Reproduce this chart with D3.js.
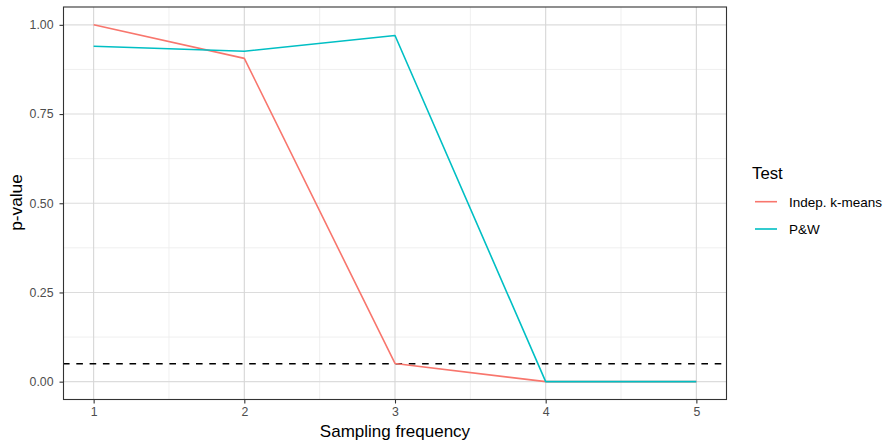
<!DOCTYPE html>
<html><head><meta charset="utf-8">
<script src="https://cdn.jsdelivr.net/npm/d3@7"></script>
<style>body{margin:0;background:#fff;font-family:"Liberation Sans",Arial,sans-serif;}</style>
</head><body><svg id="c" width="886" height="443"></svg>
<script>
const freq = [1, 2, 3, 4, 5];
const indepKmeans = [1.00, 0.906, 0.051, 0.0, 0.0];
const pw = [0.940, 0.926, 0.970, 0.0, 0.0];
const seriesNames = ["Indep. k-means", "P&W"];
const seriesColors = ["#F8766D", "#00BFC4"];
const yTicks = [0, 0.25, 0.5, 0.75, 1.0];
const yMinor = [0.125, 0.375, 0.625, 0.875];
const xMinor = [1.5, 2.5, 3.5, 4.5];
const threshold = 0.05;

const svg = d3.select("#c");
const L = 63.5, R = 726.5, T = 7, B = 399.5;
const x = d3.scaleLinear().domain([0.8, 5.2]).range([L, R]);
const y = d3.scaleLinear().domain([-0.05, 1.05]).range([B, T]);

const g = svg.append("g");
g.append("rect").attr("x", L).attr("y", T).attr("width", R - L).attr("height", B - T).attr("fill", "#fff");
// minor grid
g.selectAll(".ym").data(yMinor).enter().append("line")
  .attr("x1", L).attr("x2", R).attr("y1", d => y(d)).attr("y2", d => y(d))
  .attr("stroke", "#ebebeb").attr("stroke-width", 0.8);
g.selectAll(".xm").data(xMinor).enter().append("line")
  .attr("y1", T).attr("y2", B).attr("x1", d => x(d)).attr("x2", d => x(d))
  .attr("stroke", "#ebebeb").attr("stroke-width", 0.8);
// major grid
g.selectAll(".yM").data(yTicks).enter().append("line")
  .attr("x1", L).attr("x2", R).attr("y1", d => y(d)).attr("y2", d => y(d))
  .attr("stroke", "#dcdcdc").attr("stroke-width", 1.1);
g.selectAll(".xM").data(freq).enter().append("line")
  .attr("y1", T).attr("y2", B).attr("x1", d => x(d)).attr("x2", d => x(d))
  .attr("stroke", "#d6d6d6").attr("stroke-width", 1.1);

// threshold
g.append("line").attr("x1", L).attr("x2", R).attr("y1", y(threshold)).attr("y2", y(threshold))
  .attr("stroke", "#000").attr("stroke-width", 1.5).attr("stroke-dasharray", "6.6,6.7")
  .attr("stroke-dashoffset", 0.5);

const line = d3.line().x(d => x(d[0])).y(d => y(d[1]));
const series = [indepKmeans, pw];
series.forEach((vals, i) => {
  g.append("path").datum(freq.map((f, j) => [f, vals[j]]))
    .attr("d", line).attr("fill", "none").attr("stroke", seriesColors[i])
    .attr("stroke-width", 1.6).attr("stroke-linejoin", "round");
});

// border
g.append("rect").attr("x", L).attr("y", T).attr("width", R - L).attr("height", B - T)
  .attr("fill", "none").attr("stroke", "#333").attr("stroke-width", 1.1);

// axes
const xAxis = svg.append("g").attr("transform", `translate(0,${B})`)
  .call(d3.axisBottom(x).tickValues(freq).tickFormat(d3.format("d")).tickSize(4).tickPadding(3.5));
const yAxis = svg.append("g").attr("transform", `translate(${L},0)`)
  .call(d3.axisLeft(y).tickValues(yTicks).tickFormat(d3.format(".2f")).tickSize(4).tickPadding(6));
[xAxis, yAxis].forEach(a => {
  a.select(".domain").remove();
  a.selectAll(".tick line").attr("stroke", "#333").attr("stroke-width", 1.1);
  a.selectAll(".tick text").attr("fill", "#4d4d4d").attr("font-size", "12.3px")
    .attr("font-family", "Liberation Sans, Arial, sans-serif");
});

svg.append("text").attr("x", (L + R) / 2).attr("y", 436.7).attr("text-anchor", "middle")
  .attr("font-size", "17px").attr("fill", "#000").text("Sampling frequency");
svg.append("text").attr("transform", `translate(21.5,202.5) rotate(-90)`).attr("text-anchor", "middle")
  .attr("font-size", "17.3px").attr("fill", "#000").text("p-value");

// legend
const lg = svg.append("g");
lg.append("text").attr("x", 752).attr("y", 179).attr("font-size", "16.8px").attr("fill", "#000").text("Test");
seriesNames.forEach((n, i) => {
  const yy = 201.7 + i * 27.3;
  lg.append("line").attr("x1", 755).attr("x2", 777).attr("y1", yy).attr("y2", yy)
    .attr("stroke", seriesColors[i]).attr("stroke-width", 1.6);
  lg.append("text").attr("x", 789).attr("y", yy + 5).attr("font-size", "13.5px").attr("fill", "#000").text(n);
});
</script></body></html>
